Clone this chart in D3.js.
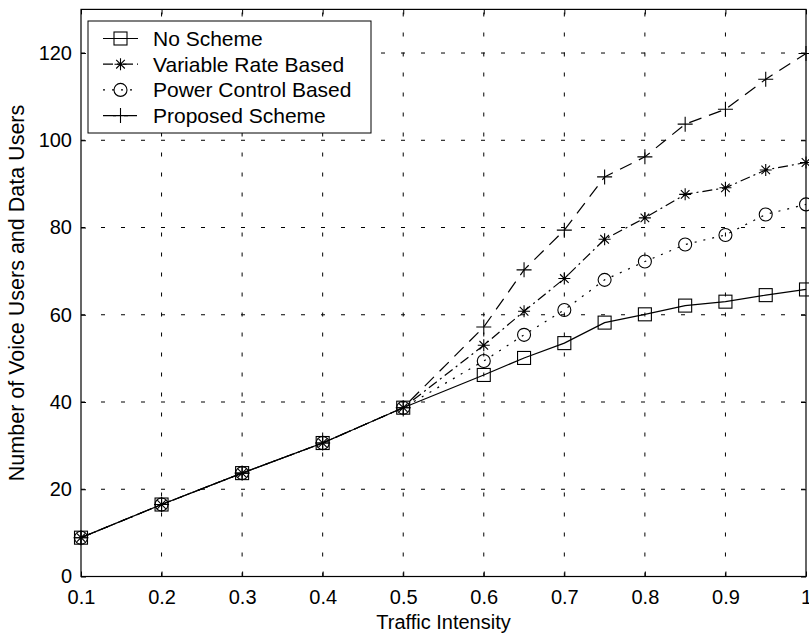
<!DOCTYPE html>
<html>
<head>
<meta charset="utf-8">
<script src="https://cdn.jsdelivr.net/npm/d3@7"></script>
<style>
  body { margin: 0; background: #fff; }
  svg text { font-family: "Liberation Sans", Arial, sans-serif; fill: #000; }
</style>
</head>
<body>
<svg width="809" height="637"></svg>
<script>
// data
const traffic = [0.1, 0.2, 0.3, 0.4, 0.5, 0.6, 0.65, 0.7, 0.75, 0.8, 0.85, 0.9, 0.95, 1.0];
const noScheme     = [8.9, 16.5, 23.7, 30.6, 38.7, 46.2, 50.1, 53.5, 58.2, 60.1, 62.1, 63.0, 64.5, 65.8];
const variableRate = [8.9, 16.5, 23.7, 30.6, 38.7, 53.0, 60.8, 68.3, 77.3, 82.2, 87.6, 89.1, 93.2, 94.9];
const powerControl = [8.9, 16.5, 23.7, 30.6, 38.7, 49.4, 55.4, 61.1, 68.0, 72.2, 76.1, 78.3, 83.0, 85.3];
const proposed     = [8.9, 16.5, 23.7, 30.6, 38.7, 57.2, 70.3, 79.4, 91.6, 96.2, 103.7, 107.1, 114.0, 119.9];
const seriesNames  = ['No Scheme', 'Variable Rate Based', 'Power Control Based', 'Proposed Scheme'];
const xTicks = [0.1, 0.2, 0.3, 0.4, 0.5, 0.6, 0.7, 0.8, 0.9, 1];
const yTicks = [0, 20, 40, 60, 80, 100, 120];

const svg = d3.select('svg');
const pLeft = 81, pRight = 806, pTop = 9.4, pBottom = 576.5;

const x = d3.scaleLinear().domain([0.1, 1]).range([pLeft, pRight]);
const y = d3.scaleLinear().domain([0, 130]).range([pBottom, pTop]);

// grid
const grid = svg.append('g').attr('stroke', '#000').attr('stroke-width', 1)
  .attr('stroke-dasharray', '4,16');
grid.selectAll('.gx').data(xTicks.slice(1, -1)).enter().append('line')
  .attr('x1', d => x(d)).attr('x2', d => x(d)).attr('y1', pBottom).attr('y2', pTop);
grid.selectAll('.gy').data(yTicks.slice(1)).enter().append('line')
  .attr('x1', pLeft).attr('x2', pRight).attr('y1', d => y(d)).attr('y2', d => y(d));

// axes (inside ticks, box)
const tickLen = 5;
svg.append('g').attr('transform', `translate(0,${pBottom})`)
  .call(d3.axisBottom(x).tickValues(xTicks).tickSize(-tickLen).tickPadding(8)
    .tickFormat(d => d === 1 ? '1' : d3.format('.1f')(d)))
  .call(g => g.select('.domain').remove())
  .call(g => g.selectAll('text').attr('font-size', 20).attr('dy', '0.95em'));
svg.append('g').attr('transform', `translate(0,${pTop})`)
  .call(d3.axisTop(x).tickValues(xTicks).tickSize(-tickLen).tickFormat(''))
  .call(g => g.select('.domain').remove());
svg.append('g').attr('transform', `translate(${pLeft},0)`)
  .call(d3.axisLeft(y).tickValues(yTicks).tickSize(-tickLen).tickPadding(9))
  .call(g => g.select('.domain').remove())
  .call(g => g.selectAll('text').attr('font-size', 20));
svg.append('g').attr('transform', `translate(${pRight},0)`)
  .call(d3.axisRight(y).tickValues(yTicks).tickSize(-tickLen).tickFormat(''))
  .call(g => g.select('.domain').remove());
svg.append('rect').attr('x', pLeft).attr('y', pTop)
  .attr('width', pRight - pLeft).attr('height', pBottom - pTop)
  .attr('fill', 'none').attr('stroke', '#000').attr('stroke-width', 1.2);

// markers
const markers = {
  square: (g) => g.append('rect').attr('x', -6.5).attr('y', -6.5).attr('width', 13).attr('height', 13).attr('fill', 'none'),
  star: (g) => g.append('path').attr('d', 'M-6,0H6M0,-6V6M-4.3,-4.3L4.3,4.3M-4.3,4.3L4.3,-4.3'),
  circle: (g) => g.append('circle').attr('r', 6.5).attr('fill', 'none'),
  plus: (g) => g.append('path').attr('d', 'M-7.5,0H7.5M0,-7.5V7.5')
};
const series = [
  { name: seriesNames[0], values: noScheme, dash: null, marker: 'square' },
  { name: seriesNames[1], values: variableRate, dash: '10,4,2,4', marker: 'star' },
  { name: seriesNames[2], values: powerControl, dash: '2,7', marker: 'circle' },
  { name: seriesNames[3], values: proposed, dash: '13,8', marker: 'plus' }
];

const line = d3.line().x((d, i) => x(traffic[i])).y(d => y(d));

series.forEach(s => {
  svg.append('path').datum(s.values)
    .attr('d', line)
    .attr('fill', 'none').attr('stroke', '#000').attr('stroke-width', 1.2)
    .attr('stroke-dasharray', s.dash);
  s.values.forEach((v, i) => {
    const g = svg.append('g').attr('transform', `translate(${x(traffic[i])},${y(v)})`)
      .attr('stroke', '#000').attr('stroke-width', 1.1).attr('fill', 'none');
    markers[s.marker](g);
  });
});

// legend
const lg = svg.append('g');
lg.append('rect').attr('x', 88).attr('y', 21).attr('width', 283).attr('height', 112)
  .attr('fill', '#fff').attr('stroke', '#000').attr('stroke-width', 1);
series.forEach((s, i) => {
  const cy = 38.5 + i * 25.7;
  lg.append('line').attr('x1', 103).attr('x2', 138).attr('y1', cy).attr('y2', cy)
    .attr('stroke', '#000').attr('stroke-width', 1.2).attr('stroke-dasharray', s.dash);
  const g = lg.append('g').attr('transform', `translate(120.5,${cy})`)
    .attr('stroke', '#000').attr('stroke-width', 1.1).attr('fill', 'none');
  markers[s.marker](g);
  lg.append('text').attr('x', 153).attr('y', cy + 7.5).attr('font-size', 21).text(s.name);
});

// axis titles
svg.append('text').attr('x', (pLeft + pRight) / 2).attr('y', 629)
  .attr('text-anchor', 'middle').attr('font-size', 20).text('Traffic Intensity');
svg.append('text').attr('transform', `translate(24,${(pTop + pBottom) / 2}) rotate(-90)`)
  .attr('text-anchor', 'middle').attr('font-size', 21.5).text('Number of Voice Users and Data Users');
</script>
</body>
</html>
